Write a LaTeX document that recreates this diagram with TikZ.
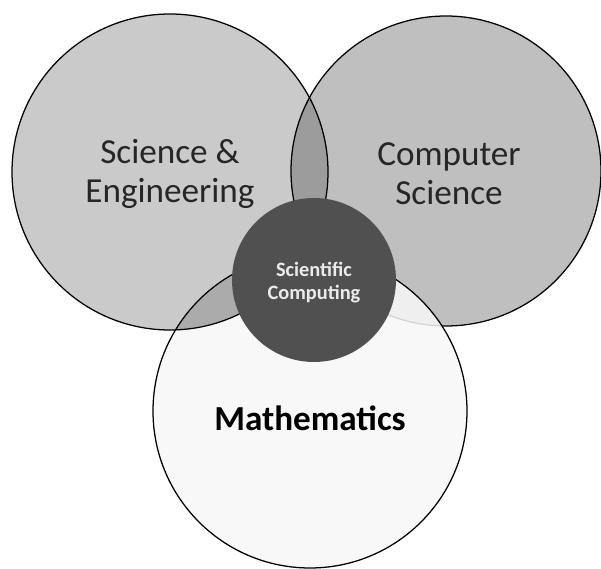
\documentclass[tikz,border=0pt]{standalone}
\usepackage{fontspec}
\setmainfont{Carlito}
\definecolor{segray}{HTML}{CACACA}
\definecolor{csgray}{HTML}{BFBFBF}
\definecolor{lensgray}{HTML}{9C9C9C}
\definecolor{sccore}{HTML}{505050}
\begin{document}
\begin{tikzpicture}[x=0.025cm,y=-0.025cm,
  every node/.style={font=\fontsize{25}{28}\selectfont,align=center,text=black!85},
  ring/.style={draw=black,line width=0.9pt}]
\useasboundingbox (0,0) rectangle (601,569);
% centres of the three fields and the core
\coordinate (se) at (170,172);
\coordinate (cs) at (446,171);
\coordinate (ma) at (310,411);
\coordinate (sc) at (314,280);
\fill[segray] (se) circle[radius=158];
\fill[csgray] (cs) circle[radius=155];
\begin{scope}
  \clip (se) circle[radius=158];
  \fill[lensgray] (cs) circle[radius=155];
\end{scope}
\draw[ring] (cs) circle[radius=155];
% maths sits on top, its overlap with science darker
\fill[white!97!black,opacity=0.86] (ma) circle[radius=157];
\begin{scope}
  \clip (se) circle[radius=158];
  \fill[lensgray!85!white] (ma) circle[radius=157];
\end{scope}
\draw[ring] (se) circle[radius=158];
\draw[ring] (ma) circle[radius=157];
\fill[sccore] (sc) circle[radius=82];
\node (selabel) at (170,174) {Science \&\\Engineering};
\node (cslabel) at (449,174) {Computer\\Science};
\node[text=black,font=\fontsize{25}{28}\selectfont\bfseries] (malabel) at (310,418) {Mathematics};
\node[font=\fontsize{14.5}{16.3}\selectfont\bfseries,text=white!92!black] (sclabel) at (314,283) {Scientific\\Computing};
\end{tikzpicture}
\end{document}
